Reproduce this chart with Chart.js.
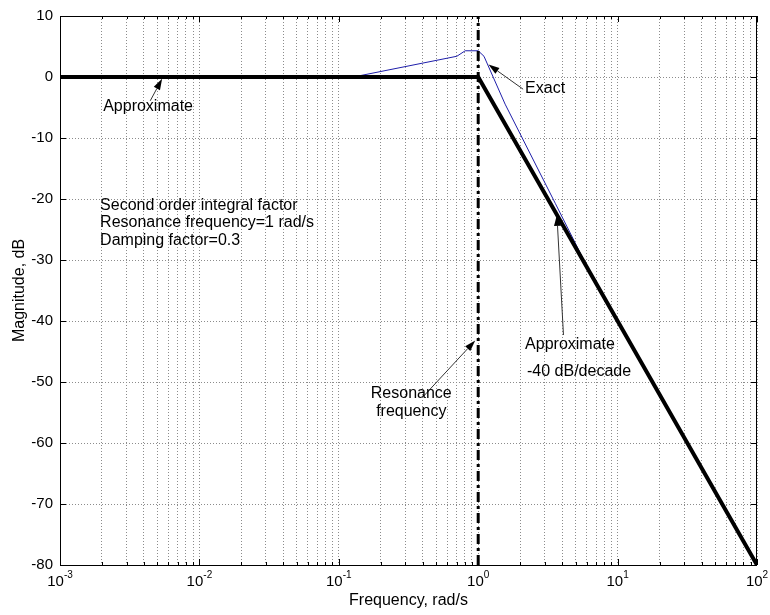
<!DOCTYPE html>
<html>
<head>
<meta charset="utf-8">
<script src="https://cdn.jsdelivr.net/npm/chart.js@4.4.0/dist/chart.umd.min.js"></script>
<style>
  html, body { margin: 0; padding: 0; background: #fff; }
  #wrap { width: 770px; height: 615px; }
</style>
</head>
<body>
<div id="wrap"><canvas id="chart-bode"></canvas></div>
<script>
const FONT = '"Liberation Sans", Arial, sans-serif';

// asymptotic (approximate) magnitude
const approxFreq = [0.001, 1, 100];
const approxMag = [0, 0, -80];

// exact magnitude
const exactFreq = [0.001, 0.127, 0.703, 0.807, 1.0, 1.1, 1.56, 3.57, 5.69, 10, 100];
const exactMag = [0, 0, 3.4, 4.3, 4.3, 3.4, -4.45, -20.7, -29.9, -40, -80];

// resonance marker
const resonanceFreq = [1, 1];
const resonanceMag = [-80, 10];

// axes
const xTickExponents = [-3, -2, -1, 0, 1, 2];
const xMinor = [1, 2, 3, 4, 5, 6, 7, 8, 9];
const yMin = -80, yMax = 10, yStep = 10;

// text notes and arrows (data coordinates)
const noteTexts = ['Approximate', 'Exact', 'Second order integral factor', 'Resonance frequency=1 rad/s',
  'Damping factor=0.3', 'Approximate', '-40 dB/decade', 'Resonance', 'frequency'];
const noteFreq = [0.00204, 2.17, 0.00194, 0.00194, 0.00194, 2.17, 2.24, 0.331, 0.331];
const noteMag = [-4.8, -1.85, -21.0, -23.9, -26.9, -43.9, -48.3, -51.9, -54.8];
const noteAlign = ['left', 'left', 'left', 'left', 'left', 'left', 'left', 'center', 'center'];

const arrowTailFreq = [0.00444, 2.10, 4.09, 0.403];
const arrowTailMag = [-3.9, -2.0, -42.3, -52.4];
const arrowHeadFreq = [0.0054, 1.185, 3.67, 0.952];
const arrowHeadMag = [-0.3, 2.05, -22.6, -43.2];

const xGrid = [];
xTickExponents.slice(0, -1).forEach(e => xMinor.forEach(m => xGrid.push(m * Math.pow(10, e))));
xGrid.push(Math.pow(10, xTickExponents[xTickExponents.length - 1]));

const pts = (xs, ys) => xs.map((v, i) => ({x: v, y: ys[i]}));

const plotDecor = {
  id: 'plotDecor',
  afterDraw(chart) {
    const {ctx, chartArea: a, scales: {x, y}} = chart;
    ctx.save();
    ctx.strokeStyle = '#000';
    ctx.lineWidth = 1;
    ctx.strokeRect(a.left + 0.5, a.top + 0.5, a.right - a.left - 1, a.bottom - a.top);

    // ticks pointing inwards
    ctx.beginPath();
    x.ticks.forEach(t => {
      const px = Math.round(x.getPixelForValue(t.value)) + 0.5;
      const lg = Math.log10(t.value);
      const len = Math.abs(lg - Math.round(lg)) < 1e-9 ? 6 : 3;
      ctx.moveTo(px, a.bottom); ctx.lineTo(px, a.bottom - len);
      ctx.moveTo(px, a.top); ctx.lineTo(px, a.top + len);
    });
    y.ticks.forEach(t => {
      const py = Math.round(y.getPixelForValue(t.value)) + 0.5;
      ctx.moveTo(a.left, py); ctx.lineTo(a.left + 6, py);
      ctx.moveTo(a.right, py); ctx.lineTo(a.right - 6, py);
    });
    ctx.stroke();

    // x tick labels 10^n
    ctx.fillStyle = '#000';
    ctx.textAlign = 'left';
    ctx.textBaseline = 'alphabetic';
    xTickExponents.forEach(e => {
      const px = x.getPixelForValue(Math.pow(10, e));
      ctx.font = '15px ' + FONT;
      const wb = ctx.measureText('10').width;
      ctx.font = '10px ' + FONT;
      const we = ctx.measureText(String(e)).width;
      const left = px - (wb + we) / 2;
      ctx.font = '15px ' + FONT;
      ctx.fillText('10', left, a.bottom + 21);
      ctx.font = '10px ' + FONT;
      ctx.fillText(String(e), left + wb, a.bottom + 13);
    });

    // arrows
    arrowTailFreq.forEach((f, i) => {
      const x1 = x.getPixelForValue(f), y1 = y.getPixelForValue(arrowTailMag[i]);
      const x2 = x.getPixelForValue(arrowHeadFreq[i]), y2 = y.getPixelForValue(arrowHeadMag[i]);
      const ang = Math.atan2(y2 - y1, x2 - x1);
      const L = 11, W = 3.5;
      ctx.strokeStyle = '#333';
      ctx.lineWidth = 1;
      ctx.beginPath();
      ctx.moveTo(x1, y1);
      ctx.lineTo(x2 - L * Math.cos(ang), y2 - L * Math.sin(ang));
      ctx.stroke();
      ctx.fillStyle = '#000';
      ctx.beginPath();
      ctx.moveTo(x2, y2);
      ctx.lineTo(x2 - L * Math.cos(ang) - W * Math.sin(ang), y2 - L * Math.sin(ang) + W * Math.cos(ang));
      ctx.lineTo(x2 - L * Math.cos(ang) + W * Math.sin(ang), y2 - L * Math.sin(ang) - W * Math.cos(ang));
      ctx.closePath();
      ctx.fill();
    });

    // notes
    ctx.font = '16px ' + FONT;
    ctx.fillStyle = '#000';
    ctx.textBaseline = 'middle';
    noteTexts.forEach((s, i) => {
      ctx.textAlign = noteAlign[i];
      ctx.fillText(s, x.getPixelForValue(noteFreq[i]), y.getPixelForValue(noteMag[i]));
    });
    ctx.restore();
  }
};

new Chart(document.getElementById('chart-bode'), {
  type: 'line',
  data: {
    datasets: [
      {
        data: pts(approxFreq, approxMag),
        borderColor: '#000',
        borderWidth: 4,
        order: 1
      },
      {
        data: pts(resonanceFreq, resonanceMag),
        borderColor: '#000',
        borderWidth: 3,
        borderDash: [10, 4, 3, 4],
        order: 2
      },
      {
        data: pts(exactFreq, exactMag),
        borderColor: 'rgb(30,30,170)',
        borderWidth: 1,
        order: 3
      }
    ]
  },
  plugins: [plotDecor],
  options: {
    responsive: true,
    maintainAspectRatio: false,
    animation: false,
    devicePixelRatio: 1,
    elements: { point: { radius: 0 }, line: { tension: 0 } },
    layout: { padding: { top: 11, right: 13, left: 0, bottom: 0 } },
    plugins: { legend: { display: false }, tooltip: { enabled: false } },
    scales: {
      x: {
        type: 'logarithmic',
        min: Math.pow(10, xTickExponents[0]),
        max: Math.pow(10, xTickExponents[xTickExponents.length - 1]),
        afterBuildTicks: scale => { scale.ticks = xGrid.map(v => ({value: v})); },
        afterFit: scale => { scale.height = 50; },
        ticks: { display: false, autoSkip: false },
        grid: { color: '#8c8c8c', lineWidth: 1, drawTicks: false },
        border: { display: false, dash: [1, 2] },
        title: {
          display: true,
          text: 'Frequency, rad/s',
          color: '#000',
          font: { family: FONT, size: 16 },
          padding: { top: 0, bottom: 5 }
        }
      },
      y: {
        min: yMin,
        max: yMax,
        afterFit: scale => { scale.width = 60; },
        ticks: { stepSize: yStep, color: '#000', padding: 7, font: { family: FONT, size: 15 } },
        grid: { color: '#8c8c8c', lineWidth: 1, drawTicks: false },
        border: { display: false, dash: [1, 2] },
        title: {
          display: true,
          text: 'Magnitude, dB',
          color: '#000',
          font: { family: FONT, size: 16 },
          padding: { top: 10, bottom: 0 }
        }
      }
    }
  }
});
</script>
</body>
</html>
